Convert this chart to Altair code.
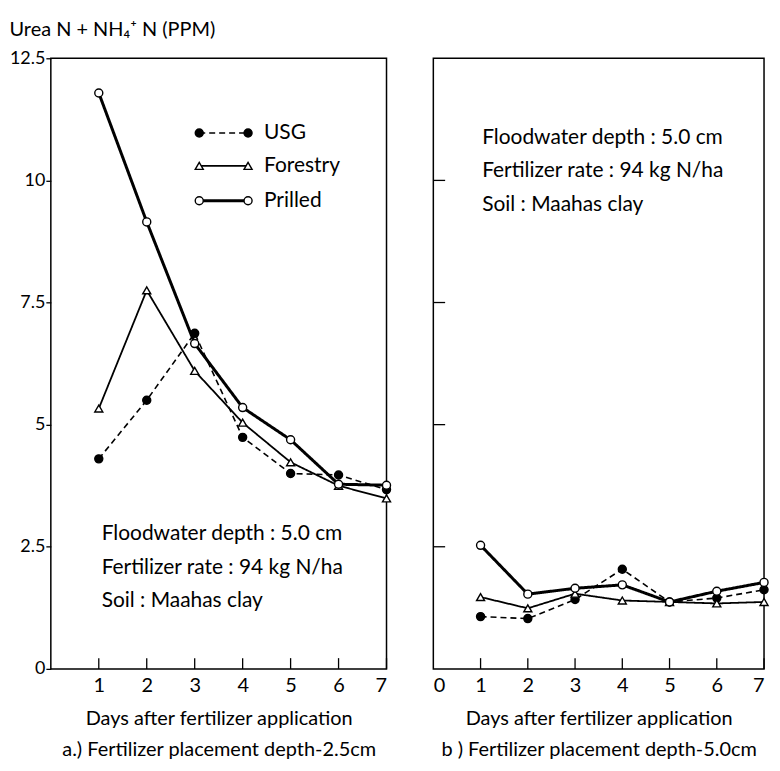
import altair as alt
import pandas as pd

# ---------------- data ----------------
days = [1, 2, 3, 4, 5, 6, 7]
series_names = ["USG", "Forestry", "Prilled"]

# panel a) placement depth 2.5 cm
usg_a = [4.30, 5.50, 6.87, 4.74, 4.00, 3.97, 3.67]
forestry_a = [5.33, 7.75, 6.10, 5.04, 4.23, 3.75, 3.49]
prilled_a = [11.79, 9.15, 6.66, 5.35, 4.69, 3.78, 3.76]

# panel b) placement depth 5.0 cm
usg_b = [1.07, 1.03, 1.42, 2.04, 1.37, 1.45, 1.62]
forestry_b = [1.47, 1.24, 1.54, 1.40, 1.37, 1.34, 1.37]
prilled_b = [2.53, 1.53, 1.65, 1.72, 1.37, 1.59, 1.77]

y_ticks = [0, 2.5, 5, 7.5, 10, 12.5]
x_ticks_a = [1, 2, 3, 4, 5, 6, 7]
x_ticks_b = [0, 1, 2, 3, 4, 5, 6, 7]
inner_x_ticks = [1, 2, 3, 4, 5, 6, 7]
inner_y_ticks = [2.5, 5, 7.5, 10]

y_axis_title = "Urea N + NH\u2084\u207a N (PPM)"
x_title = "Days after fertilizer application"
subtitle_a = "a.) Fertilizer placement depth-2.5cm"
subtitle_b = "b ) Fertilizer placement depth-5.0cm"
notes = ["Floodwater depth : 5.0 cm", "Fertilizer rate : 94 kg N/ha", "Soil : Maahas clay"]

# ---------------- style ----------------
FONT = "Lato"
FS = 20
STYLE = {
    "USG": dict(dash=[6, 4], width=1.6, shape="circle", fill="black"),
    "Forestry": dict(dash=[1, 0], width=1.8, shape="triangle-up", fill="white"),
    "Prilled": dict(dash=[1, 0], width=3.0, shape="circle", fill="white"),
}
TICK_LEN_Y = 0.22   # inward x-axis tick length (data units of y)
TICK_LEN_X = 0.25   # inward y-axis tick length (data units of x)
W_A, W_B, H = 337, 332, 613


def panel(series_vals, x_ticks, subtitle, show_y, note_y0, note_x, legend, width):
    xscale = alt.Scale(domain=[0, 7], nice=False, zero=False)
    yscale = alt.Scale(domain=[0, 12.5], nice=False)
    x_axis = alt.Axis(values=x_ticks, format="d", ticks=False, tickSize=0, domain=False,
                      grid=False, labelPadding=7, labelFontSize=FS, labelColor="black",
                      title=[x_title, subtitle], titleFontSize=FS, titleFontWeight="normal",
                      titleColor="black", titlePadding=13, titleLineHeight=31)
    if show_y:
        y_axis = alt.Axis(values=y_ticks, labelExpr="'' + datum.value", domain=False, grid=False,
                          tickSize=5, tickColor="black", tickWidth=1.3,
                          labelFontSize=18, labelColor="black", labelPadding=1,
                          title=y_axis_title, titleAngle=0, titleAlign="left",
                          titleBaseline="middle", titleX=-42, titleY=-29,
                          titleFontSize=FS, titleFontWeight="normal", titleColor="black")
    else:
        y_axis = None
    X = alt.X("day:Q", scale=xscale, axis=x_axis)
    Y = alt.Y("value:Q", scale=yscale, axis=y_axis)

    layers = []
    # inward ticks on the x axis
    xt = pd.DataFrame({"day": inner_x_ticks, "value": [0] * len(inner_x_ticks),
                       "value2": [TICK_LEN_Y] * len(inner_x_ticks)})
    layers.append(alt.Chart(xt).mark_rule(color="black", strokeWidth=1.3).encode(
        x=X, y=Y, y2="value2:Q"))
    if not show_y:
        yt = pd.DataFrame({"day": [0] * len(inner_y_ticks), "day2": [TICK_LEN_X] * len(inner_y_ticks),
                           "value": inner_y_ticks})
        layers.append(alt.Chart(yt).mark_rule(color="black", strokeWidth=1.3).encode(
            x=X, x2="day2:Q", y=Y))

    for name, vals in zip(series_names, series_vals):
        st = STYLE[name]
        df = pd.DataFrame({"day": days, "value": vals})
        layers.append(alt.Chart(df).mark_line(color="black", strokeWidth=st["width"],
                                              strokeDash=st["dash"]).encode(x=X, y=Y))
    for name, vals in zip(series_names, series_vals):
        st = STYLE[name]
        df = pd.DataFrame({"day": days, "value": vals})
        layers.append(alt.Chart(df).mark_point(shape=st["shape"], filled=True, fill=st["fill"],
                                               stroke="black", strokeWidth=1.4, size=65,
                                               opacity=1).encode(x=X, y=Y))

    # annotation text
    for i, t in enumerate(notes):
        layers.append(alt.Chart(pd.DataFrame({"t": [t]})).mark_text(
            align="left", baseline="middle", fontSize=21, font=FONT, color="black").encode(
            text="t:N", x=alt.value(note_x), y=alt.value(note_y0 + 33.5 * i)))

    # legend
    if legend:
        ly = [75, 108, 143]
        for name, yy in zip(series_names, ly):
            st = STYLE[name]
            one = pd.DataFrame({"s": [name]})
            layers.append(alt.Chart(one).mark_rule(color="black", strokeWidth=st["width"],
                                                   strokeDash=st["dash"]).encode(
                x=alt.value(149), x2=alt.value(198), y=alt.value(yy)))
            for xx in (149, 198):
                layers.append(alt.Chart(one).mark_point(shape=st["shape"], filled=True,
                                                        fill=st["fill"], stroke="black",
                                                        strokeWidth=1.4, size=65, opacity=1).encode(
                    x=alt.value(xx), y=alt.value(yy)))
            layers.append(alt.Chart(one).mark_text(align="left", baseline="middle",
                                                   fontSize=21, font=FONT, color="black").encode(
                text="s:N", x=alt.value(214), y=alt.value(yy)))

    return alt.layer(*layers).properties(width=width, height=H)


left = panel([usg_a, forestry_a, prilled_a], x_ticks_a, subtitle_a, True, 478, 51, True, W_A)
right = panel([usg_b, forestry_b, prilled_b], x_ticks_b, subtitle_b, False, 80, 49, False, W_B)

chart = alt.hconcat(left, right, spacing=37,
                    padding={"left": 0, "top": 9, "right": 0, "bottom": 0}).configure(
    font=FONT).configure_view(stroke="black", strokeWidth=1.5).configure_axis(
    labelFont=FONT, titleFont=FONT)

chart.save("out.html", embed_options={"renderer": "svg", "actions": False})
